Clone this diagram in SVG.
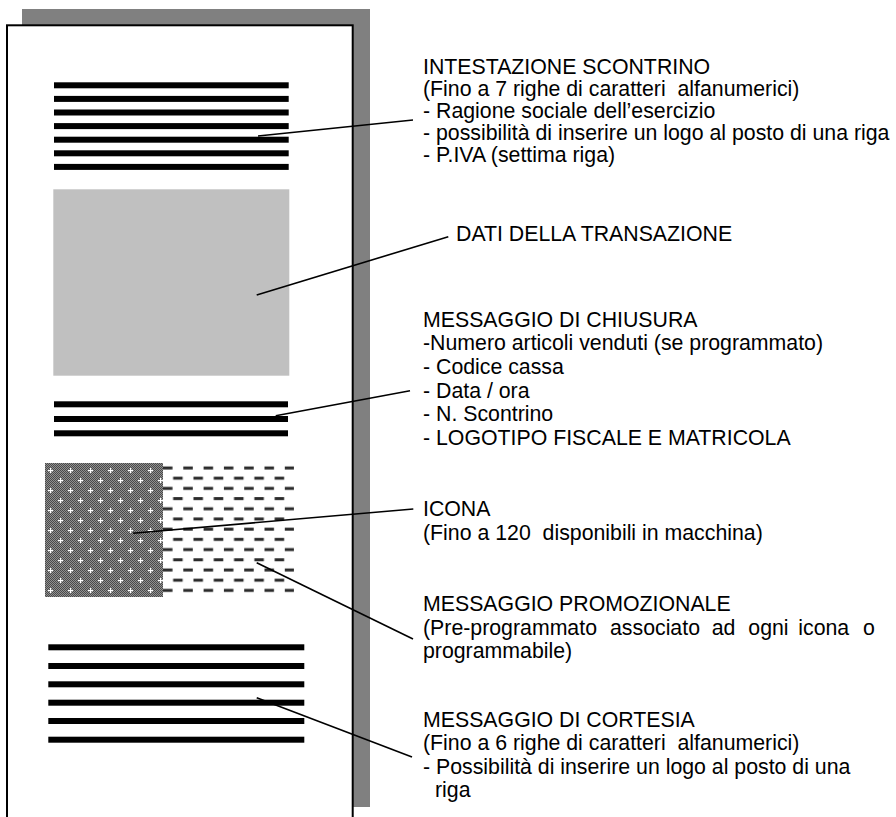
<svg xmlns="http://www.w3.org/2000/svg" width="896" height="817" viewBox="0 0 896 817">
  <style>
    .t { font-family: "Liberation Sans", Arial, sans-serif; font-size: 21.3px; fill: #000; white-space: pre; }
    .bar { fill: #000; }
    .lead { stroke: #000; stroke-width: 1.6; fill: none; }
  </style>
  <defs>
    <pattern id="chk" x="45" y="463" width="2" height="2" patternUnits="userSpaceOnUse">
      <rect x="0" y="0" width="2" height="2" fill="#909090"/>
      <rect x="0" y="0" width="1" height="1" fill="#4a4a4a"/>
      <rect x="1" y="1" width="1" height="1" fill="#4a4a4a"/>
    </pattern>
    <pattern id="cross" x="45" y="463" width="20" height="20" patternUnits="userSpaceOnUse">
      <rect x="3" y="7" width="5" height="1.2" fill="#fff"/>
      <rect x="5" y="5" width="1.2" height="5" fill="#fff"/>
      <rect x="13" y="17" width="5" height="1.2" fill="#fff"/>
      <rect x="15" y="15" width="1.2" height="5" fill="#fff"/>
    </pattern>
    <pattern id="dash" x="163" y="463" width="20.3" height="20.4" patternUnits="userSpaceOnUse">
      <rect x="0" y="3.5" width="9.5" height="3" fill="#2a2a2a"/>
      <rect x="10.15" y="13.7" width="9.5" height="3" fill="#2a2a2a"/>
    </pattern>
  </defs>

  <g id="receipt">
    <rect x="22" y="9" width="348" height="798" fill="#808080"/>
    <rect x="7" y="25.3" width="345.7" height="800" fill="#fff" stroke="#000" stroke-width="2"/>
  </g>

  <g id="intestazione-bars">
    <rect class="bar" x="54" y="82.3" width="234.7" height="6"/>
    <rect class="bar" x="54" y="95.9" width="234.7" height="6"/>
    <rect class="bar" x="54" y="109.5" width="234.7" height="6"/>
    <rect class="bar" x="54" y="123.1" width="234.7" height="6"/>
    <rect class="bar" x="54" y="136.7" width="234.7" height="6"/>
    <rect class="bar" x="54" y="150.3" width="234.7" height="6"/>
    <rect class="bar" x="54" y="163.9" width="234.7" height="6"/>
  </g>

  <g id="dati-box">
    <rect x="53.3" y="189.3" width="236" height="186.4" fill="#c0c0c0"/>
  </g>

  <g id="chiusura-bars">
    <rect class="bar" x="54" y="401.3" width="234" height="6"/>
    <rect class="bar" x="54" y="416" width="234" height="6"/>
    <rect class="bar" x="54" y="430.3" width="234" height="6"/>
  </g>

  <g id="icona">
    <rect x="45" y="463" width="118" height="134" fill="url(#chk)"/>
    <rect x="45" y="463" width="118" height="134" fill="url(#cross)"/>
  </g>

  <g id="promo">
    <rect x="163" y="463" width="131" height="134" fill="url(#dash)"/>
  </g>

  <g id="cortesia-bars">
    <rect class="bar" x="48.3" y="644.3" width="256" height="6"/>
    <rect class="bar" x="48.3" y="663" width="256" height="6"/>
    <rect class="bar" x="48.3" y="681.3" width="256" height="6"/>
    <rect class="bar" x="48.3" y="699.7" width="256" height="6"/>
    <rect class="bar" x="48.3" y="718" width="256" height="6"/>
    <rect class="bar" x="48.3" y="736.7" width="256" height="6"/>
  </g>

  <g id="connectors">
    <line class="lead" x1="258" y1="136" x2="413" y2="120"/>
    <line class="lead" x1="256.7" y1="295" x2="448.3" y2="236.7"/>
    <line class="lead" x1="275.7" y1="415.7" x2="410" y2="390.7"/>
    <line class="lead" x1="133" y1="533.3" x2="413.3" y2="509"/>
    <line class="lead" x1="256.7" y1="562.7" x2="413" y2="639"/>
    <line class="lead" x1="256.7" y1="697.7" x2="412" y2="757"/>
  </g>

  <g id="label-intestazione">
    <text class="t" x="423" y="74">INTESTAZIONE SCONTRINO</text>
    <text class="t" x="423" y="95.9">(Fino a 7 righe di caratteri  alfanumerici)</text>
    <text class="t" x="423" y="117.8">- Ragione sociale dell’esercizio</text>
    <text class="t" x="423" y="139.7">- possibilità di inserire un logo al posto di una riga</text>
    <text class="t" x="423" y="161.6">- P.IVA (settima riga)</text>
  </g>

  <g id="label-dati">
    <text class="t" x="456" y="240.7">DATI DELLA TRANSAZIONE</text>
  </g>

  <g id="label-chiusura">
    <text class="t" x="423" y="326.7">MESSAGGIO DI CHIUSURA</text>
    <text class="t" x="423" y="350.3">-Numero articoli venduti (se programmato)</text>
    <text class="t" x="423" y="373.9">- Codice cassa</text>
    <text class="t" x="423" y="397.5">- Data / ora</text>
    <text class="t" x="423" y="421.1">- N. Scontrino</text>
    <text class="t" x="423" y="444.7">- LOGOTIPO FISCALE E MATRICOLA</text>
  </g>

  <g id="label-icona">
    <text class="t" x="423" y="515.7">ICONA</text>
    <text class="t" x="423" y="540">(Fino a 120  disponibili in macchina)</text>
  </g>

  <g id="label-promo">
    <text class="t" x="423" y="611">MESSAGGIO PROMOZIONALE</text>
    <text class="t" y="634.5"><tspan x="423">(Pre-programmato</tspan><tspan x="610">associato</tspan><tspan x="711.7">ad</tspan><tspan x="748.3">ogni</tspan><tspan x="798.3">icona</tspan><tspan x="863">o</tspan></text>
    <text class="t" x="423" y="657.5">programmabile)</text>
  </g>

  <g id="label-cortesia">
    <text class="t" x="423" y="726.7">MESSAGGIO DI CORTESIA</text>
    <text class="t" x="423" y="750.3">(Fino a 6 righe di caratteri  alfanumerici)</text>
    <text class="t" x="423" y="773.5">- Possibilità di inserire un logo al posto di una</text>
    <text class="t" x="435" y="797">riga</text>
  </g>
</svg>
